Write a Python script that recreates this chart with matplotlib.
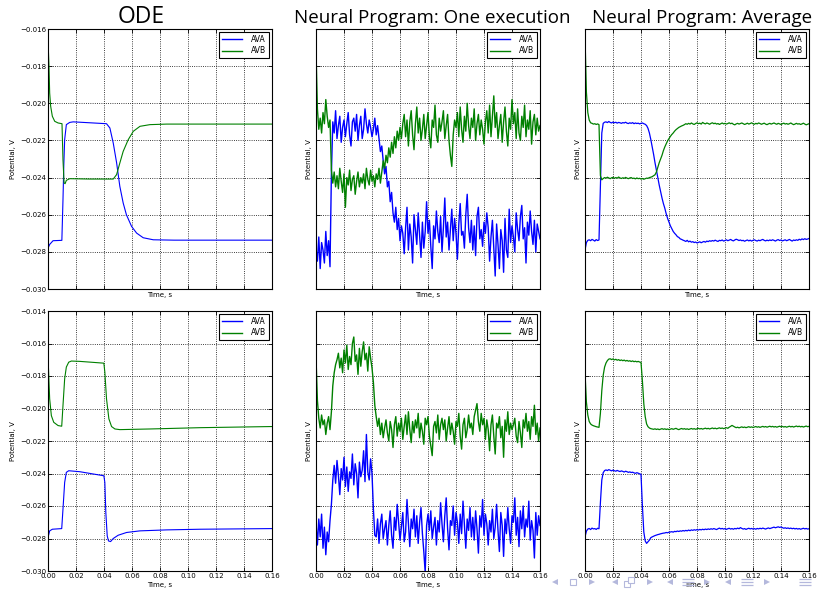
import numpy as np
import matplotlib
matplotlib.use("Agg")
import matplotlib.pyplot as plt
from matplotlib.ticker import FuncFormatter

# time grid for the simulated traces (1 ms step), values in mV
t_sim = np.linspace(0, 0.16, 161)

# ---- ODE, top (breakpoints) ----
ode1_ava_t = [0, 0.0012, 0.0036, 0.0099, 0.0107, 0.0113, 0.0119, 0.0131, 0.0155, 0.018, 0.03,
              0.0418, 0.0442, 0.0466, 0.049, 0.0513, 0.0537, 0.056, 0.0597, 0.0633, 0.068,
              0.0752, 0.09, 0.16]
ode1_ava_v = [-27.8, -27.6, -27.4, -27.38, -25.2, -23.3, -21.96, -21.15, -21.03, -21.0, -21.05,
              -21.1, -21.33, -22.14, -23.2, -24.47, -25.37, -26.0, -26.63, -26.99, -27.24,
              -27.35, -27.37, -27.37]
ode1_avb_t = [0, 0.0007, 0.0012, 0.0019, 0.0031, 0.0048, 0.0072, 0.0100, 0.0107, 0.0115, 0.0122,
              0.0131, 0.0155, 0.03, 0.0466, 0.049, 0.0513, 0.0537, 0.0573, 0.0609, 0.0657,
              0.0728, 0.0848, 0.16]
ode1_avb_v = [-16.6, -18.0, -19.45, -20.16, -20.7, -20.97, -21.06, -21.1, -23.04, -24.29, -24.33,
              -24.15, -24.06, -24.08, -24.08, -23.84, -23.22, -22.59, -21.96, -21.51, -21.24,
              -21.15, -21.12, -21.12]

# ---- ODE, bottom ----
ode2_ava_t = [0, 0.0012, 0.0031, 0.0098, 0.0107, 0.0119, 0.0131, 0.0148, 0.0227, 0.0399, 0.0406,
              0.0413, 0.0423, 0.0432, 0.0447, 0.0466, 0.0501, 0.0561, 0.0657, 0.0848, 0.1086, 0.16]
ode2_ava_v = [-27.94, -27.53, -27.43, -27.39, -26.19, -24.55, -23.93, -23.83, -23.89, -24.14, -24.55,
              -26.4, -27.84, -28.15, -28.19, -28.0, -27.8, -27.63, -27.53, -27.47, -27.43, -27.39]
ode2_avb_t = [0, 0.0007, 0.0012, 0.0024, 0.0041, 0.0072, 0.0098, 0.0107, 0.0119, 0.0131, 0.0148,
              0.0167, 0.0227, 0.0399, 0.0406, 0.0418, 0.0435, 0.0454, 0.0478, 0.0513, 0.0728,
              0.1086, 0.16]
ode2_avb_v = [-16.73, -18.38, -19.41, -20.44, -20.85, -21.05, -21.09, -19.82, -18.17, -17.45, -17.15,
              -17.08, -17.1, -17.21, -17.76, -19.41, -20.64, -21.11, -21.26, -21.3, -21.26,
              -21.18, -21.11]

# ---- Neural program, one execution, top ----
np1_ava = [-27.8, -28.5, -27.2, -28.9, -27.5, -27.9, -28.6, -26.9, -28.2, -27.4, -28.8,
           -23.8,
           -21.0, -21.6, -20.4, -21.9, -21.2, -20.7, -22.1, -21.3, -20.9, -21.8,
           -21.1, -20.5, -21.7, -22.3, -21.0, -20.8, -21.5, -20.6, -22.0, -21.2,
           -20.7, -21.9, -21.4, -20.3, -21.1, -21.6, -20.9, -21.3, -21.8,
           -21.4, -20.8, -21.7, -21.2, -21.9,
           -22.6, -22.3, -23.1, -23.8, -23.4, -24.5, -24.2, -25.3, -24.8, -25.9,
           -26.4, -25.6, -26.8, -26.2, -27.4, -26.6, -27.0,
           -28.1, -26.7, -25.6, -27.9, -26.5, -27.2, -28.6, -26.0,
           -26.8, -27.6, -25.9, -27.1, -28.3, -26.4, -27.8, -26.9, -25.3, -27.0,
           -26.3, -27.7, -28.9, -26.6, -27.3, -25.8, -26.9, -27.5, -26.1, -28.0,
           -26.7, -25.1, -27.2, -26.4, -27.9, -26.8, -25.7, -27.4, -26.2, -27.0,
           -28.4, -26.5, -25.4, -27.1, -26.9, -27.8, -26.0, -24.9, -26.7, -27.5,
           -26.3, -27.9, -26.6, -28.2, -26.1, -25.6, -27.3, -26.8, -27.7, -26.4,
           -27.0, -25.9, -26.7, -28.5, -27.2, -26.3, -27.8, -29.3, -26.5, -27.6,
           -28.9, -26.8, -27.4, -29.1, -26.2, -27.9, -28.3, -25.7, -27.5, -26.6,
           -27.2, -28.0, -25.9, -26.8, -27.4, -26.1, -25.5, -27.3, -26.7, -28.6,
           -26.4, -27.1, -25.8, -26.9, -27.6, -26.3, -28.0, -26.5, -26.9, -27.3]
np1_avb = [-17.2, -20.3, -21.4, -20.8, -21.6, -20.5, -21.1, -19.8, -20.7, -21.3, -20.9,
           -23.6, -24.3,
           -23.7, -24.5, -23.9, -24.6, -23.5, -24.2, -24.8, -23.8, -25.6, -24.0,
           -24.4, -23.6, -24.7, -24.1, -23.9, -24.9, -24.2, -23.7, -24.5, -24.0,
           -24.3, -23.8, -24.6, -23.5, -24.1, -24.4,
           -23.6, -24.2, -23.9, -24.5, -23.8, -24.1, -23.5, -24.3, -23.7,
           -23.1, -23.5, -22.8, -23.2, -22.4, -22.9, -22.1, -22.7, -21.8, -22.4,
           -21.5, -22.0, -21.3, -21.9, -21.1,
           -20.6, -21.8, -20.9, -22.3, -21.0, -20.4, -21.7, -22.5,
           -21.1, -20.2, -21.6, -20.8, -22.0, -21.4, -20.6, -21.9, -21.2, -20.5,
           -21.8, -22.4, -20.9, -21.3, -20.1, -21.7, -22.1, -20.8, -21.5, -21.0,
           -20.4, -21.9, -21.2, -20.6, -22.0, -22.8, -23.4, -21.7, -20.9, -21.3,
           -20.5, -21.8, -20.2, -21.4, -22.1, -20.7, -21.5, -20.0, -21.2, -21.9,
           -20.8, -21.3, -20.3, -22.0, -21.1, -20.6, -21.7, -20.9, -21.4, -22.2,
           -21.0, -20.4, -21.6, -20.1, -21.8, -20.7, -19.6, -21.3, -20.5, -21.9,
           -21.2, -20.6, -22.1, -21.0, -20.2, -21.5, -22.3, -20.8, -21.4, -19.8,
           -21.1, -20.5, -21.9, -20.3, -21.6, -22.0, -20.7, -21.3, -20.1, -21.8,
           -20.9, -21.4, -20.4, -22.2, -21.0, -20.6, -21.7, -20.8, -21.5, -21.2]

# ---- Neural program, one execution, bottom ----
np2_ava = [-27.0, -28.4, -26.8, -27.9, -26.5, -28.6, -27.3, -29.0, -27.6, -28.2, -26.9,
           -25.9, -24.4,
           -23.5, -24.6, -23.2, -24.1, -25.3, -23.7, -24.4, -23.0, -24.8, -23.6,
           -25.1, -23.9, -24.3, -22.8, -24.7, -23.4, -24.0, -25.5, -23.3, -24.2,
           -23.8, -22.6, -24.5, -21.6, -23.9, -24.4, -23.1, -24.0,
           -26.2, -27.8,
           -27.9, -26.8, -28.3, -27.1, -26.5, -28.0, -27.4, -26.9,
           -28.4, -27.2, -26.3, -27.8, -28.6, -26.7, -27.5, -25.9, -27.0, -28.1,
           -27.3, -26.4, -28.2, -27.6, -25.6, -27.1, -28.5, -26.8, -27.4, -26.2,
           -27.9, -26.6, -28.3, -27.0, -26.1, -27.7, -28.8, -30.1, -27.2, -26.5,
           -27.5, -26.3, -28.0, -27.3, -26.7, -28.4, -26.9, -27.6, -25.8, -27.1,
           -28.2, -26.6, -25.5, -27.4, -28.7, -26.9, -27.2, -26.0, -27.8, -26.4,
           -27.0, -28.3, -26.5, -27.7, -25.7, -27.2, -28.6, -26.8, -27.5, -26.1,
           -27.9, -26.7, -28.1, -26.3, -27.4, -28.9, -26.6, -27.3, -25.6, -27.8,
           -26.5, -27.1, -28.4, -26.9, -27.6, -26.2, -28.0, -27.3, -25.9, -27.5,
           -28.8, -26.4, -27.2, -29.1, -26.8, -27.7, -26.1, -27.4, -28.3, -26.6,
           -27.0, -25.5, -27.8, -26.7, -28.5, -26.3, -27.4, -26.0, -27.9, -26.8,
           -27.3, -25.7, -28.1, -26.9, -27.5, -29.2, -26.4, -27.8, -26.6, -27.2]
np2_avb = [-16.9, -19.5, -20.6,
           -21.2, -20.4, -21.0, -20.7, -21.6, -20.9, -20.5, -21.3,
           -20.2, -18.6, -17.8, -17.3,
           -17.0, -16.6, -17.5, -16.9, -17.8, -16.4, -17.2, -16.1, -17.6, -16.8,
           -17.3, -16.0, -15.6, -17.1, -16.7, -17.9, -16.3, -17.4, -16.5, -15.9,
           -17.0, -16.6, -17.7, -16.2, -16.9, -17.5,
           -18.4, -19.8, -20.5, -21.1, -20.6,
           -21.6, -20.9, -21.8, -21.2, -20.7,
           -21.5, -22.0, -20.8, -21.3, -22.4, -21.0, -20.5, -21.7, -20.9, -21.4,
           -20.6, -21.9, -21.1, -20.4, -21.6, -20.2, -21.3, -22.1, -20.8, -21.5,
           -20.7, -21.2, -20.3, -21.8, -20.9, -21.4, -22.2, -20.6, -21.0, -20.5,
           -21.7, -22.3, -22.9, -21.1, -20.8, -21.5, -20.4, -21.9, -21.0, -20.6,
           -21.3, -20.7, -22.0, -21.2, -20.5, -21.6, -20.9, -21.4, -22.2, -20.8,
           -21.1, -20.3, -21.7, -22.5, -21.0, -20.6, -21.8, -21.3, -20.4, -21.2,
           -20.9, -21.6, -20.5, -20.1, -19.7, -20.8, -21.4, -20.3, -21.0, -20.6,
           -21.9, -20.7, -21.3, -22.6, -21.0, -20.4, -21.7, -22.8, -20.9, -21.2,
           -20.5, -21.8, -21.1, -23.0, -20.7, -21.4, -20.2, -21.6, -20.9, -21.3,
           -21.0, -20.6, -21.7, -22.1, -20.8, -21.5, -22.4, -20.7, -21.2, -20.3,
           -21.4, -20.8, -21.9, -20.5, -21.1, -19.8, -21.6, -20.9, -22.0, -21.2]

# ---- Neural program, average, top ----
avg1_ava = [-27.9, -27.5,
            -27.38, -27.35, -27.40, -27.33, -27.37, -27.42, -27.34, -27.39, -27.36,
            -24.5, -21.6, -21.08, -21.02,
            -21.00, -21.04, -20.98, -21.03, -21.06, -21.01, -21.05, -21.02, -21.07, -21.03,
            -21.05, -21.08, -21.04, -21.06, -21.02, -21.07, -21.09, -21.05, -21.08, -21.04,
            -21.10, -21.06, -21.09, -21.07, -21.11, -21.08, -21.06, -21.10, -21.13, -21.20,
            -21.35, -21.6, -21.95, -22.35, -22.75, -23.2, -23.6, -24.0, -24.4, -24.75,
            -25.1, -25.4, -25.65, -25.95, -26.2, -26.4, -26.6, -26.75, -26.9, -27.0,
            -27.08, -27.18, -27.22, -27.3, -27.33, -27.37,
            -27.40, -27.44, -27.38, -27.46, -27.42, -27.48, -27.45, -27.50, -27.47, -27.52,
            -27.49, -27.46, -27.51, -27.47, -27.44, -27.48, -27.42, -27.45, -27.40, -27.43,
            -27.39, -27.42, -27.37, -27.41, -27.44, -27.38, -27.40, -27.36, -27.42, -27.39,
            -27.35, -27.40, -27.37, -27.33, -27.38, -27.41, -27.36, -27.32, -27.35, -27.39,
            -27.36, -27.40, -27.38, -27.43, -27.39, -27.36, -27.41, -27.37, -27.42, -27.38,
            -27.35, -27.39, -27.42, -27.37, -27.40, -27.36, -27.33, -27.38, -27.41, -27.37,
            -27.40, -27.36, -27.39, -27.35, -27.38, -27.42, -27.37, -27.34, -27.39, -27.36,
            -27.41, -27.38, -27.35, -27.40, -27.37, -27.33, -27.38, -27.42, -27.36, -27.39,
            -27.35, -27.38, -27.32, -27.36, -27.30, -27.34, -27.29, -27.33, -27.31, -27.28]
avg1_avb = [-16.4, -19.4, -20.5, -20.9, -21.05,
            -21.08, -21.12, -21.10, -21.14, -21.11, -21.15,
            -23.9, -24.12,
            -24.05, -24.00, -24.03, -23.98, -24.02, -24.06, -24.01, -23.99, -24.04, -24.00,
            -24.03, -23.97, -24.02, -24.05, -24.01, -24.04, -23.99, -24.03, -24.06, -24.02,
            -24.00, -24.05, -24.03, -24.07, -24.02, -24.06, -24.04, -24.08, -24.05, -24.09,
            -24.06, -24.03, -24.04, -24.00, -23.98,
            -23.95, -23.90, -23.85, -23.70, -23.45, -23.20, -23.00, -22.80, -22.55, -22.35,
            -22.18, -22.02, -21.90, -21.78, -21.68, -21.60, -21.50, -21.42, -21.36, -21.30,
            -21.26, -21.22, -21.19,
            -21.15, -21.10, -21.13, -21.08, -21.12, -21.06, -21.11, -21.14, -21.09, -21.05,
            -21.10, -21.07, -21.12, -21.03, -21.08, -21.11, -21.06, -21.09, -21.13, -21.08,
            -21.05, -21.10, -21.07, -21.12, -21.09, -21.14, -21.10, -21.06, -21.11, -21.08,
            -21.12, -21.09, -21.05, -21.10, -21.07, -21.13, -21.16, -21.11, -21.08, -21.12,
            -21.09, -21.06, -21.10, -21.14, -21.11, -21.07, -21.12, -21.09, -21.05, -21.10,
            -21.13, -21.08, -21.11, -21.06, -21.09, -21.13, -21.10, -21.07, -21.12, -21.15,
            -21.11, -21.08, -21.12, -21.09, -21.06, -21.10, -21.13, -21.08, -21.11, -21.14,
            -21.10, -21.07, -21.12, -21.09, -21.13, -21.10, -21.06, -21.11, -21.15, -21.12,
            -21.08, -21.12, -21.10, -21.14, -21.11, -21.07, -21.12, -21.16, -21.13, -21.10]

# ---- Neural program, average, bottom ----
avg2_ava = [-27.9, -27.55,
            -27.42, -27.38, -27.45, -27.36, -27.41, -27.39, -27.44, -27.37, -27.40,
            -25.8, -24.4, -23.95, -23.82,
            -23.78, -23.82, -23.76, -23.80, -23.84, -23.79, -23.83, -23.86, -23.81, -23.85,
            -23.88, -23.84, -23.87, -23.91, -23.86, -23.89, -23.93, -23.90, -23.94, -23.92,
            -23.96, -23.99, -23.95, -23.98, -24.02, -24.05,
            -26.0, -27.6, -28.15, -28.3, -28.2, -28.1,
            -27.95, -27.90, -27.86, -27.82, -27.79, -27.76, -27.74, -27.71, -27.69, -27.67,
            -27.66, -27.63, -27.65, -27.61,
            -27.60, -27.58, -27.61, -27.56, -27.58, -27.54, -27.57, -27.53, -27.55, -27.51,
            -27.54, -27.50, -27.53, -27.48, -27.52, -27.47, -27.50, -27.46, -27.49, -27.45,
            -27.48, -27.44, -27.47, -27.43, -27.46, -27.42, -27.45, -27.41, -27.44, -27.40,
            -27.43, -27.39, -27.42, -27.45, -27.40, -27.36, -27.41, -27.38, -27.42, -27.39,
            -27.44, -27.40, -27.37, -27.42, -27.39, -27.43, -27.38, -27.41, -27.36, -27.40,
            -27.33, -27.38, -27.42, -27.39, -27.44, -27.40, -27.37, -27.41, -27.38, -27.42,
            -27.39, -27.43, -27.38, -27.41, -27.37, -27.40, -27.36, -27.39, -27.42, -27.38,
            -27.35, -27.39, -27.36, -27.33, -27.30, -27.34, -27.31, -27.28, -27.32, -27.29,
            -27.33, -27.37, -27.34, -27.38, -27.35, -27.39, -27.36, -27.40, -27.37, -27.41,
            -27.38, -27.42, -27.39, -27.43, -27.40, -27.37, -27.41, -27.38, -27.42, -27.40]
avg2_avb = [-17.8, -19.6, -20.4, -20.8, -20.95,
            -21.02, -21.06, -21.09, -21.12, -21.14, -21.16,
            -20.3, -18.9, -17.95, -17.45, -17.2, -17.05,
            -16.96, -16.94, -16.99, -16.95, -17.01, -16.97, -17.03, -16.99, -17.05, -17.01,
            -17.06, -17.02, -17.08, -17.04, -17.09, -17.06, -17.11, -17.07, -17.12, -17.09,
            -17.13, -17.10, -17.14, -17.16,
            -18.3, -19.7, -20.5, -20.95, -21.12, -21.2, -21.24, -21.26,
            -21.28, -21.25,
            -21.29, -21.26, -21.30, -21.27, -21.24, -21.28, -21.25, -21.29, -21.26, -21.30,
            -21.27, -21.24, -21.28, -21.25, -21.22, -21.27, -21.30, -21.26, -21.23, -21.27,
            -21.24, -21.28, -21.25, -21.29, -21.26, -21.23, -21.27, -21.24, -21.28, -21.25,
            -21.22, -21.26, -21.23, -21.27, -21.24, -21.21, -21.25, -21.22, -21.26, -21.23,
            -21.20, -21.24, -21.21, -21.25, -21.22, -21.19, -21.23, -21.20, -21.24, -21.21,
            -21.18, -21.22, -21.15, -21.10, -21.04, -21.09, -21.14, -21.18, -21.15, -21.19,
            -21.16, -21.13, -21.17, -21.14, -21.18, -21.15, -21.12, -21.16, -21.13, -21.17,
            -21.14, -21.11, -21.15, -21.12, -21.16, -21.13, -21.10, -21.14, -21.11, -21.15,
            -21.12, -21.09, -21.13, -21.10, -21.14, -21.11, -21.15, -21.12, -21.09, -21.13,
            -21.10, -21.14, -21.11, -21.15, -21.12, -21.09, -21.13, -21.10, -21.14, -21.11,
            -21.08, -21.12, -21.09, -21.13, -21.10, -21.14, -21.11, -21.08, -21.12, -21.10]

titles = ["ODE", "Neural Program: One execution", "Neural Program: Average"]
title_x = [141, 432, 702]
title_size = [16.5, 13.5, 13.5]

# beamer navigation symbols (x positions in pixels)
nav_left = [555, 615, 670, 728]
nav_right = [592, 650, 707, 767]
nav_box = [573]
nav_lines = [688, 747, 805]

W, H = 818, 590
fig = plt.figure(figsize=(W / 100, H / 100), dpi=100)
fig.patch.set_facecolor("white")

col_left = [48, 316, 585]
row_top = [29, 311]
ax_w, ax_h = 224, 260

def mv(v):
    return np.array(v) / 1000.0

xfmt = FuncFormatter(lambda v, p: ("%.2f" % v).replace("-", "\u2212"))
yfmt = FuncFormatter(lambda v, p: ("%.3f" % v).replace("-", "\u2212"))

panels = [
    [(ode1_ava_t, ode1_ava_v, ode1_avb_t, ode1_avb_v),
     (t_sim, np1_ava, t_sim, np1_avb),
     (t_sim, avg1_ava, t_sim, avg1_avb)],
    [(ode2_ava_t, ode2_ava_v, ode2_avb_t, ode2_avb_v),
     (t_sim, np2_ava, t_sim, np2_avb),
     (t_sim, avg2_ava, t_sim, avg2_avb)],
]
ylims = [(-0.030, -0.016), (-0.030, -0.014)]
lws = [0.8, 1.0, 0.9]

for r in range(2):
    for c in range(3):
        ax = fig.add_axes([col_left[c] / W, 1 - (row_top[r] + ax_h) / H, ax_w / W, ax_h / H])
        ta, va, tb, vb = panels[r][c]
        ax.plot(ta, mv(va), color="#0000ff", lw=lws[c], label="AVA")
        ax.plot(tb, mv(vb), color="#008000", lw=lws[c], label="AVB")
        ax.set_xlim(0, 0.16)
        ax.set_ylim(*ylims[r])
        ax.set_xticks(np.arange(0, 0.161, 0.02))
        ax.set_yticks(np.arange(ylims[r][0], ylims[r][1] + 1e-9, 0.002))
        ax.grid(True, color="black", linestyle=":", linewidth=0.6)
        ax.tick_params(direction="in", top=True, right=True, length=3, width=0.6,
                       labelsize=5, pad=1.5)
        for s in ax.spines.values():
            s.set_linewidth(0.8)
        ax.xaxis.set_major_formatter(xfmt)
        ax.yaxis.set_major_formatter(yfmt)
        ax.set_xlabel("Time, s", fontsize=5)
        if r == 0:
            ax.tick_params(labelbottom=False)
            ax.xaxis.set_label_coords(0.5, -0.012)
        else:
            ax.xaxis.set_label_coords(0.5, -0.042)
        ax.set_ylabel("Potential, V", fontsize=5)
        if c == 0:
            ax.yaxis.set_label_coords(-0.145, 0.5)
        else:
            ax.tick_params(labelleft=False)
            ax.yaxis.set_label_coords(-0.018, 0.5)
        leg = ax.legend(loc="upper right", fontsize=5.5, fancybox=False, framealpha=1,
                        borderaxespad=0.4, handlelength=2.6, handletextpad=1.2,
                        borderpad=0.4, labelspacing=0.3)
        leg.get_frame().set_edgecolor("black")
        leg.get_frame().set_linewidth(0.8)
        for h in leg.get_lines():
            h.set_linewidth(1.0)

for x, s, fs in zip(title_x, titles, title_size):
    fig.text(x / W, 1 - 23 / H, s, ha="center", va="baseline", fontsize=fs,
             family="Open Sans", color="black")

# overlay in pixel coordinates for the navigation symbols (right half only)
ov = fig.add_axes([540 / W, 0, (W - 540) / W, 30 / H], zorder=5)
ov.set_xlim(540, W)
ov.set_ylim(H, H - 30)
ov.axis("off")
ov.patch.set_alpha(0)
nav_col = "#b4b8dc"
ov.plot(nav_left, [582] * len(nav_left), "<", ms=4, color=nav_col, mew=0, ls="none")
ov.plot(nav_right, [582] * len(nav_right), ">", ms=4, color=nav_col, mew=0, ls="none")
ov.plot(nav_box, [582] * len(nav_box), "s", ms=5, mfc="white", mec=nav_col, mew=0.8, ls="none")
ov.plot([627, 631], [584, 580], "s", ms=5, mfc="white", mec=nav_col, mew=0.8, ls="none")
for dy in (-3, 0, 3):
    ov.plot(nav_lines, [582 + dy] * len(nav_lines), "_", ms=8, mew=0.9, color=nav_col,
            ls="none")

fig.savefig("out.png", dpi=100, facecolor="white")
